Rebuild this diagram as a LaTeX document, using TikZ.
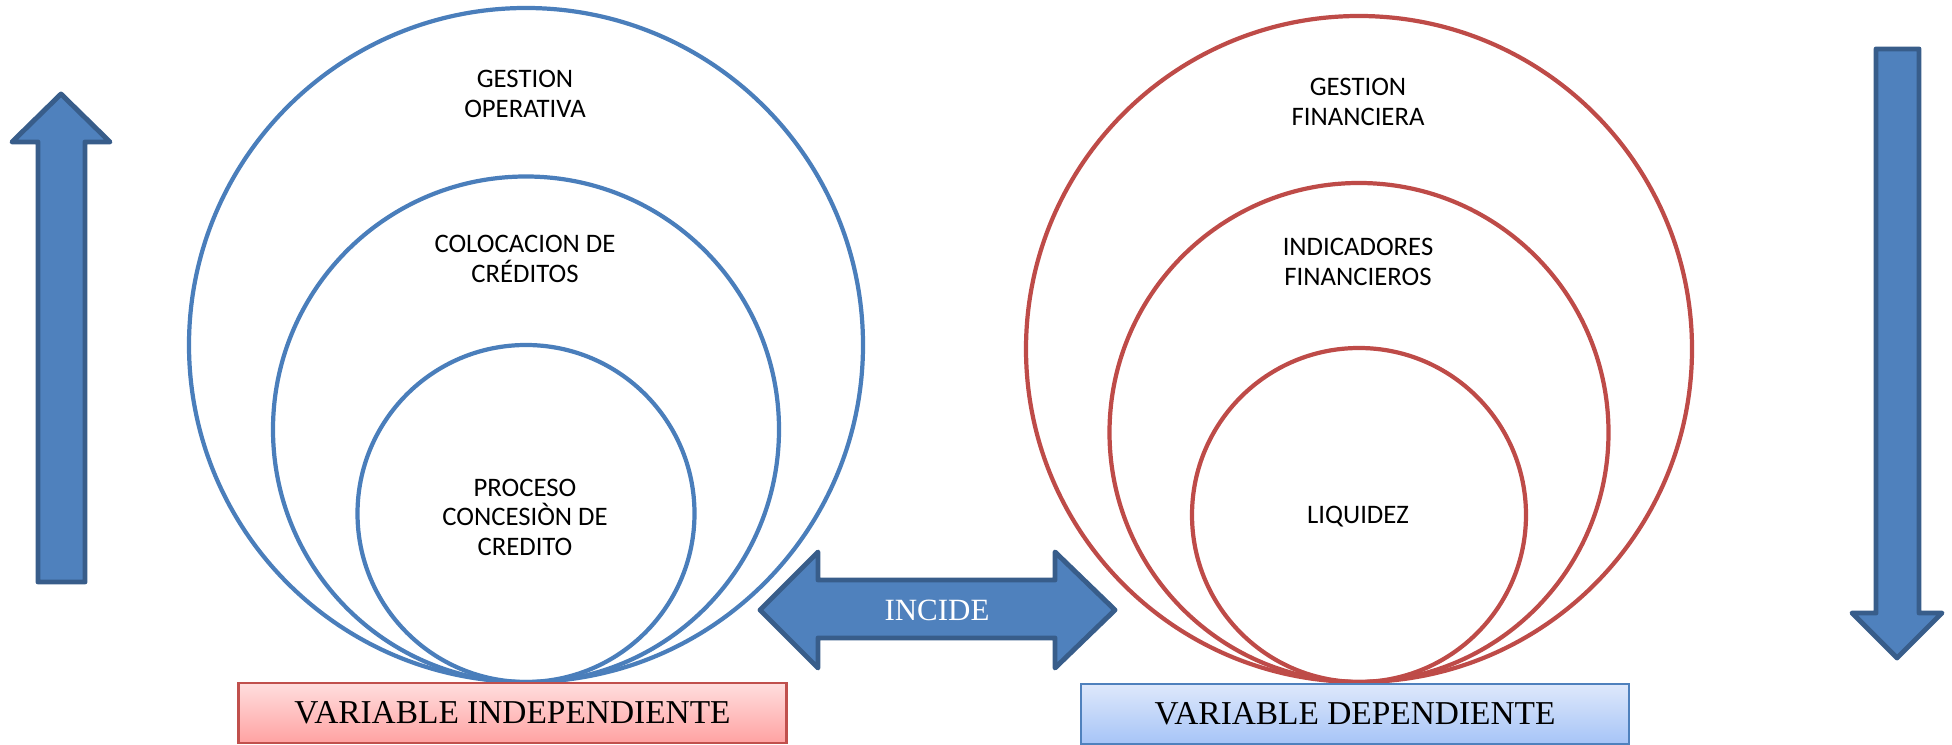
\documentclass[tikz,border=0pt]{standalone}
\usepackage{fontspec}
\setmainfont{Liberation Serif}
\newfontfamily\ringfont{Carlito}
\definecolor{ringblue}{HTML}{4A7EBB}
\definecolor{ringred}{HTML}{BE4B48}
\definecolor{arrowfill}{HTML}{4F81BD}
\definecolor{arrowline}{HTML}{385D8A}
\definecolor{pinktop}{HTML}{FFDEDE}
\definecolor{pinkbot}{HTML}{FFA2A2}
\definecolor{pinkline}{HTML}{C0504D}
\definecolor{skytop}{HTML}{DEE8FB}
\definecolor{skybot}{HTML}{A6C4F7}
\tikzset{
  ringL/.style={draw=ringblue,line width=1.2pt},
  ringR/.style={draw=ringred,line width=1.2pt},
  fatarrow/.style={fill=arrowfill,draw=arrowline,line width=1.4pt,line join=round},
  ringtext/.style={align=center,inner sep=0pt,font=\ringfont\fontsize{7.6}{8.4}\selectfont},
  varbox/.style={minimum width=5.48cm,minimum height=0.6cm,inner sep=0pt,line width=0.6pt,
    font=\fontsize{9.5}{11}\selectfont}
}

\begin{document}
\begin{tikzpicture}[x=0.1mm,y=-0.1mm]
\useasboundingbox (0,0) rectangle (1952,745);
\coordinate (LB) at (526,682);
\coordinate (RB) at (1359,682);
\draw[ringL] (526,345) circle (337);
\draw[ringL] (526,429.5) circle (253);
\draw[ringL] (526,513.5) circle (168.5);
\draw[ringR] (1359,349) circle (333);
\draw[ringR] (1359,432.5) circle (249.5);
\draw[ringR] (1359,515) circle (167);
\node[ringtext] (gop) at (525,94) {GESTION\\OPERATIVA};
\node[ringtext] (col) at (525,259) {COLOCACION DE\\CRÉDITOS};
\node[ringtext] (pro) at (525,517) {PROCESO\\CONCESIÒN DE\\CREDITO};
\node[ringtext] (gfi) at (1358,102) {GESTION\\FINANCIERA};
\node[ringtext] (ind) at (1358,262) {INDICADORES\\FINANCIEROS};
\node[ringtext] (liq) at (1358,517) {LIQUIDEZ};
\draw[fatarrow] (61,94) -- (110,142) -- (85,142) -- (85,582) -- (38,582) -- (38,142) -- (12,142) -- cycle;
\draw[fatarrow] (1876,49) -- (1919,49) -- (1919,613) -- (1942,613) -- (1897,658) -- (1852,613) -- (1876,613) -- cycle;
\draw[fatarrow] (760,610) -- (818,552) -- (818,580) -- (1055,580) -- (1055,552) -- (1115,610)
  -- (1055,668) -- (1055,638) -- (818,638) -- (818,668) -- cycle;
\node[text=white,font=\fontsize{8.8}{10}\selectfont] (inc) at (937,610) {INCIDE};
\node[varbox,draw=pinkline,top color=pinktop,bottom color=pinkbot] (vind) at (512.5,713) {VARIABLE INDEPENDIENTE};
\node[varbox,draw=arrowfill,top color=skytop,bottom color=skybot] (vdep) at (1355,714) {VARIABLE DEPENDIENTE};
\end{tikzpicture}
\end{document}
